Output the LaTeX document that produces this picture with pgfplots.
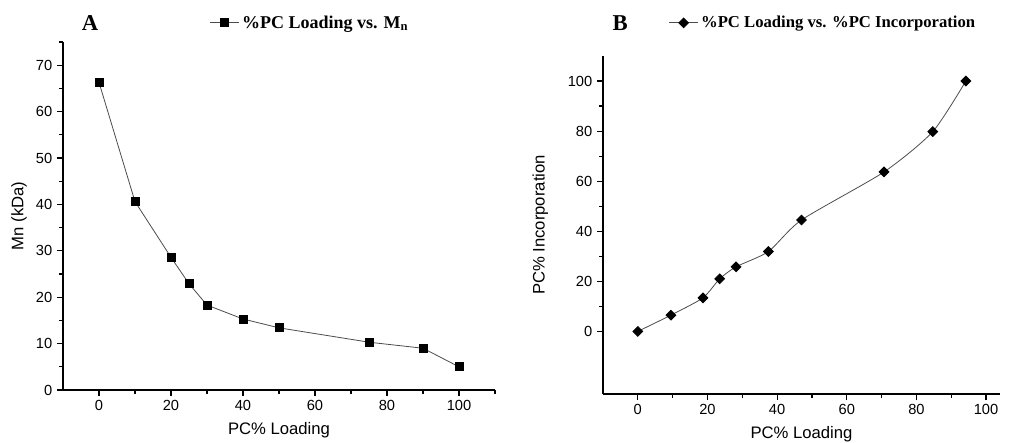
\documentclass[border=0pt]{standalone}
\usepackage{fontspec}
\setmainfont{Liberation Sans}
\newfontfamily\tnr{Liberation Serif}
\usepackage{pgfplots}
\pgfplotsset{compat=1.18}

\pgfplotsset{
  panel/.style={
    scale only axis,
    axis lines=left,
    axis line style={-, line width=1.3pt},
    tick align=outside,
    tick style={black, line width=0.9pt},
    major tick length=4.5pt,
    minor tick length=3pt,
    tick label style={font=\fontsize{11}{12}\selectfont},
    label style={font=\fontsize{12.5}{14}\selectfont},
    xlabel shift=2pt,
    /pgf/number format/assume math mode=true,
    legend style={draw=none, fill=none, anchor=west},
    legend image code/.code={
      \draw[mark repeat=2, mark phase=2] plot coordinates {(0cm,0cm) (0.38cm,0cm) (0.76cm,0cm)};},
    clip=false,
  },
  series/.style={color=black!70, line width=0.6pt},
}

\begin{document}
\begin{tikzpicture}
\path[use as bounding box] (0,0) rectangle (761.25pt,332.25pt);

% panel A
\begin{axis}[panel,
  at={(47.25pt,39.75pt)}, anchor=south west,
  width=324pt, height=261pt,
  xmin=-10, xmax=110, ymin=0, ymax=75,
  xtick={0,20,...,100}, minor xtick={10,30,...,110},
  ytick={0,10,...,70}, minor ytick={5,15,...,75},
  xlabel={PC\% Loading}, ylabel={Mn (kDa)},
  legend style={at={(0.33,1.055)}, font=\tnr\bfseries\fontsize{13.5}{15}\selectfont},
]
\addplot[series, mark=square*, mark size=3pt,
  mark options={fill=black, draw=black}] coordinates {
  (0, 66.3)
  (10, 40.6)
  (20, 28.6)
  (25, 22.9)
  (30, 18.3)
  (40, 15.3)
  (50, 13.4)
  (75, 10.3)
  (90, 9.0)
  (100, 5.0)
};
\addlegendentry{\%PC Loading vs. M\textsubscript{n}}
\node[font=\tnr\bfseries\fontsize{17}{19}\selectfont] at (rel axis cs:0.0625,1.055) {A};
\end{axis}

% panel B
\begin{axis}[panel,
  at={(452.25pt,36.75pt)}, anchor=south west,
  width=297.75pt, height=253.5pt,
  xmin=-10, xmax=104, ymin=-25, ymax=110,
  xtick={0,20,...,100}, minor xtick={10,30,...,90},
  ytick={0,20,...,100}, minor ytick={10,30,...,90},
  xlabel={PC\% Loading}, ylabel={PC\% Incorporation},
  ylabel shift=8pt,
  legend style={at={(0.155,1.098)}, font=\tnr\bfseries\fontsize{12.5}{15}\selectfont},
]
\addplot[series, smooth, tension=0.4, mark=square*, mark size=2.6pt,
  mark options={rotate=45, fill=black, draw=black}] coordinates {
  (0, 0)
  (9.5, 6.5)
  (18.7, 13.4)
  (23.5, 21.0)
  (28.2, 25.8)
  (37.5, 31.9)
  (47.0, 44.5)
  (70.7, 63.7)
  (84.7, 79.8)
  (94.2, 100)
};
\addlegendentry{\%PC Loading vs. \%PC Incorporation}
\node[font=\tnr\bfseries\fontsize{17}{19}\selectfont] at (rel axis cs:0.043,1.098) {B};
\end{axis}
\end{tikzpicture}
\end{document}
